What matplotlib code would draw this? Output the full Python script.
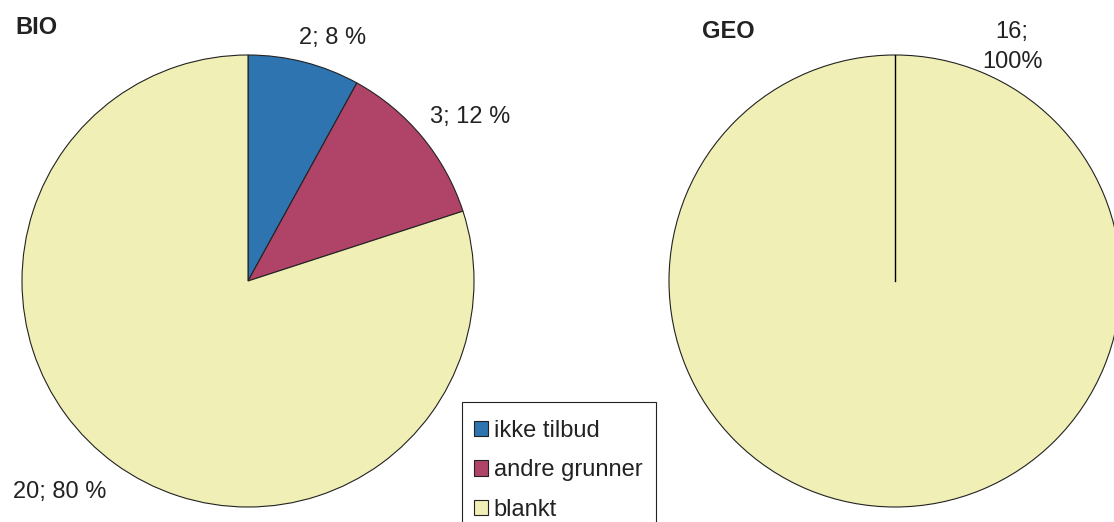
import numpy as np
import matplotlib
matplotlib.use("Agg")
import matplotlib.pyplot as plt
from matplotlib.patches import Patch, Rectangle

# data
categories = ["ikke tilbud", "andre grunner", "blankt"]
bio_values = [2, 3, 20]
bio_labels = ["2; 8 %", "3; 12 %", "20; 80 %"]
geo_values = [16]
geo_labels = ["16;\n100%"]

colors = ["#2e74b0", "#b04468", "#f0efb5"]
edge = "#222222"
txt = "#222222"

plt.rcParams["font.family"] = ["Liberation Sans", "DejaVu Sans"]

W, H = 1114, 522
fig = plt.figure(figsize=(W / 100, H / 100), dpi=100)
R = 226  # pie radius in px
FS = 17


def pie_axes(cx, cy):
    ax = fig.add_axes([(cx - R) / W, (H - cy - R) / H, 2 * R / W, 2 * R / H])
    ax.set_xlim(-1, 1)
    ax.set_ylim(-1, 1)
    ax.axis("off")
    return ax


# BIO
ax1 = pie_axes(248, 281)
wedges, _ = ax1.pie(bio_values, colors=colors, startangle=90, counterclock=False,
                    radius=1, wedgeprops=dict(edgecolor=edge, linewidth=0.8))
ax1.set_xlim(-1, 1)
ax1.set_ylim(-1, 1)
label_pos = [(0.376, 1.075), (0.982, 0.726), (-0.832, -0.934)]
for (x, y), s in zip(label_pos, bio_labels):
    ax1.text(x, y, s, ha="center", va="center", fontsize=FS, color=txt, clip_on=False)

# GEO
ax2 = pie_axes(895, 281)
ax2.pie(geo_values, colors=[colors[2]], startangle=90, counterclock=False,
        radius=1, wedgeprops=dict(edgecolor=edge, linewidth=0.8))
ax2.set_xlim(-1, 1)
ax2.set_ylim(-1, 1)
a = np.radians(90)
ax2.plot([0, np.cos(a)], [0, np.sin(a)], color="black", lw=1.0)
ax2.text(0.518, 1.035, geo_labels[0], ha="center", va="center", fontsize=FS,
         color=txt, linespacing=1.45, clip_on=False)

# titles
fig.text(15 / W, 1 - 27 / H, "BIO", fontsize=FS, fontweight="bold", color=txt, va="center")
fig.text(702 / W, 1 - 31 / H, "GEO", fontsize=FS, fontweight="bold", color=txt, va="center")

# legend (frame drawn separately, it runs off the bottom of the figure)
handles = [Patch(facecolor=c, edgecolor=edge, linewidth=0.8) for c in colors]
leg = fig.legend(handles, categories, loc="upper left",
                 bbox_to_anchor=(462 / W, 1 - 408 / H), fontsize=FS,
                 frameon=False, handlelength=0.62, handleheight=0.62,
                 handletextpad=0.22, labelspacing=0.74, borderpad=0.5,
                 borderaxespad=0)
for t in leg.get_texts():
    t.set_color(txt)
fig.patches.append(Rectangle((462 / W, -10 / H), 194 / W, (H - 402 + 10) / H,
                             transform=fig.transFigure, fill=False,
                             edgecolor=edge, linewidth=0.8))

fig.savefig("out.png", dpi=100)
